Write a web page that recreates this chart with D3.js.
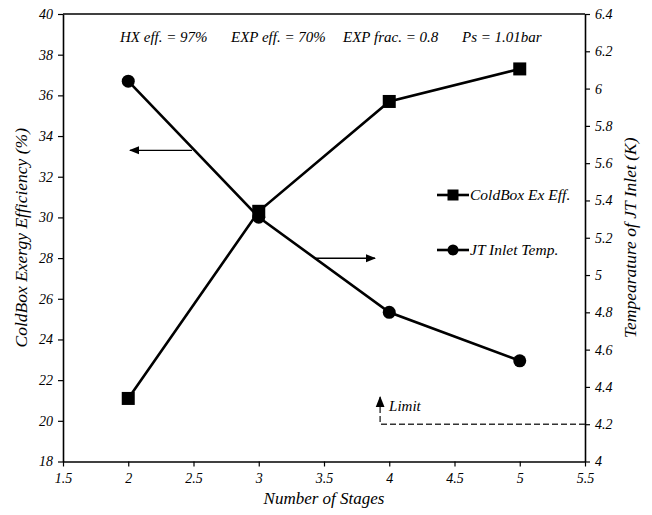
<!DOCTYPE html>
<html><head><meta charset="utf-8">
<script src="https://cdn.jsdelivr.net/npm/d3@7"></script>
<style>body{margin:0;background:#fff;}</style>
</head><body><svg id="c" width="652" height="515"></svg>
<script>
const stages = [2, 3, 4, 5];
const exEff = [21.1, 30.3, 35.7, 37.3];
const jtTemp = [6.04, 5.31, 4.80, 4.54];
const xTicks = [1.5, 2, 2.5, 3, 3.5, 4, 4.5, 5, 5.5];
const yLeftTicks = [18, 20, 22, 24, 26, 28, 30, 32, 34, 36, 38, 40];
const yRightTicks = [4, 4.2, 4.4, 4.6, 4.8, 5, 5.2, 5.4, 5.6, 5.8, 6, 6.2, 6.4];
const limitValue = 4.2;
const limitStart = 3.93;
const noteParts = [["HX eff. = 97%", 120], ["EXP eff. = 70%", 231], ["EXP frac. = 0.8", 343], ["Ps = 1.01bar", 462]];

const svg = d3.select("#c");
const L = 63, R = 585, T = 14, B = 461.5;
const x = d3.scaleLinear().domain([1.5, 5.5]).range([L, R]);
const yl = d3.scaleLinear().domain([18, 40]).range([B, T]);
const yr = d3.scaleLinear().domain([4, 6.4]).range([B, T]);

const defs = svg.append("defs");
defs.append("marker").attr("id","ah").attr("viewBox","0 0 10 10").attr("refX",9).attr("refY",5)
  .attr("markerWidth",8).attr("markerHeight",8).attr("orient","auto-start-reverse")
  .append("path").attr("d","M0,1 L10,5 L0,9 Z").attr("fill","#000");

function styleAxis(g){
  g.selectAll(".domain").attr("stroke","#000").attr("stroke-width",1.6);
  g.selectAll(".tick line").attr("stroke","#000").attr("stroke-width",1.2);
  g.selectAll(".tick text").attr("font-size",14).attr("fill","#000");
}
svg.append("line").attr("x1",L).attr("x2",R).attr("y1",T).attr("y2",T).attr("stroke","#000").attr("stroke-width",1.6);

svg.append("g").attr("transform",`translate(0,${B})`)
  .call(d3.axisBottom(x).tickValues(xTicks).tickSize(5).tickSizeOuter(0).tickPadding(7).tickFormat(d=>d))
  .call(styleAxis);
svg.append("g").attr("transform",`translate(${L},0)`)
  .call(d3.axisLeft(yl).tickValues(yLeftTicks).tickSize(5).tickSizeOuter(0).tickPadding(5).tickFormat(d=>d))
  .call(styleAxis);
svg.append("g").attr("transform",`translate(${R},0)`)
  .call(d3.axisRight(yr).tickValues(yRightTicks).tickSize(5).tickSizeOuter(0).tickPadding(5).tickFormat(d=>d))
  .call(styleAxis);

// limit
svg.append("path").attr("fill","none").attr("stroke","#333").attr("stroke-width",1.4).attr("stroke-dasharray","6,3")
  .attr("d",`M${R},${yr(limitValue)} H${x(limitStart)} V${yr(limitValue)-20}`);
svg.append("line").attr("x1",x(limitStart)).attr("x2",x(limitStart)).attr("y1",yr(limitValue)-20).attr("y2",yr(limitValue)-27)
  .attr("stroke","#000").attr("stroke-width",1.4).attr("marker-end","url(#ah)");
svg.append("text").attr("x",x(limitStart)+9).attr("y",yr(limitValue)-13).attr("font-size",15).text("Limit");

// series
const lineL = d3.line().x((d,i)=>x(stages[i])).y(d=>yl(d));
const lineR = d3.line().x((d,i)=>x(stages[i])).y(d=>yr(d));
svg.append("path").datum(jtTemp).attr("d",lineR).attr("fill","none").attr("stroke","#000").attr("stroke-width",2.6);
svg.append("path").datum(exEff).attr("d",lineL).attr("fill","none").attr("stroke","#000").attr("stroke-width",2.6);
svg.selectAll(".sq").data(exEff).join("rect").attr("x",(d,i)=>x(stages[i])-6.5).attr("y",d=>yl(d)-6.5)
  .attr("width",13).attr("height",13).attr("fill","#000");
svg.selectAll(".ci").data(jtTemp).join("circle").attr("cx",(d,i)=>x(stages[i])).attr("cy",d=>yr(d)).attr("r",6.5).attr("fill","#000");

// direction arrows
svg.append("line").attr("x1",192).attr("x2",130).attr("y1",yl(33.3)).attr("y2",yl(33.3))
  .attr("stroke","#000").attr("stroke-width",1.3).attr("marker-end","url(#ah)");
svg.append("line").attr("x1",315).attr("x2",375).attr("y1",yr(5.09)).attr("y2",yr(5.09))
  .attr("stroke","#000").attr("stroke-width",1.3).attr("marker-end","url(#ah)");

// legend
const lg = [{label:"ColdBox Ex Eff.", y:195, shape:"sq"},{label:"JT Inlet Temp.", y:250, shape:"ci"}];
lg.forEach(d=>{
  svg.append("line").attr("x1",437).attr("x2",469).attr("y1",d.y).attr("y2",d.y).attr("stroke","#000").attr("stroke-width",2.6);
  if(d.shape==="sq") svg.append("rect").attr("x",453-5.5).attr("y",d.y-5.5).attr("width",11).attr("height",11).attr("fill","#000");
  else svg.append("circle").attr("cx",453).attr("cy",d.y).attr("r",5.5).attr("fill","#000");
  svg.append("text").attr("x",470).attr("y",d.y+5).attr("font-size",15.5).text(d.label);
});

// note
noteParts.forEach(p=>{
  svg.append("text").attr("x",p[1]).attr("y",42).attr("font-size",15).text(p[0]);
});

// axis titles
svg.append("text").attr("x",(L+R)/2).attr("y",504).attr("text-anchor","middle").attr("font-size",17).text("Number of Stages");
svg.append("text").attr("transform",`translate(27,${(T+B)/2}) rotate(-90)`).attr("text-anchor","middle").attr("font-size",17.5)
  .text("ColdBox Exergy Efficiency (%)");
svg.append("text").attr("transform",`translate(636,${(T+B)/2}) rotate(-90)`).attr("text-anchor","middle").attr("font-size",17.5)
  .text("Tempearature of JT Inlet (K)");

svg.selectAll("g").attr("font-family", null);
svg.selectAll("text").style("font-family", "'Liberation Serif', 'DejaVu Serif', serif").style("font-style", "italic");
</script></body></html>
